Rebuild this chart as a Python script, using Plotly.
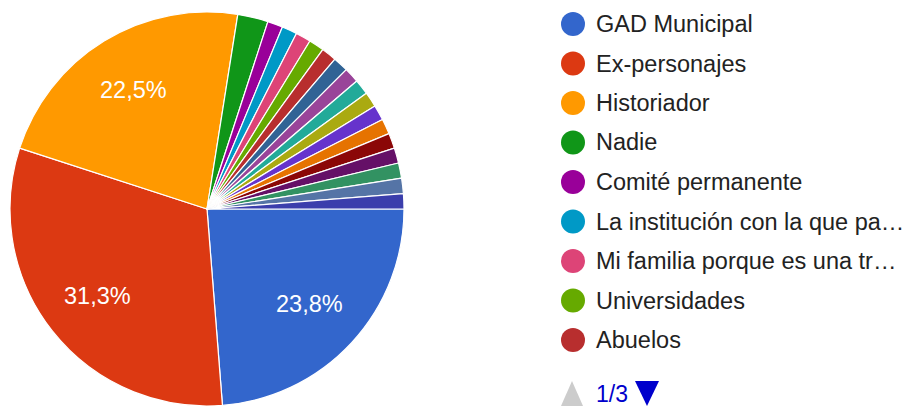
import math
import plotly.graph_objects as go

W, H = 913, 406

# respuestas (conteos); las 11 ultimas solo aparecen en las paginas 2 y 3 de la leyenda
labels = ["GAD Municipal", "Ex-personajes", "Historiador", "Nadie",
          "Comité permanente", "La institución con la que pa…",
          "Mi familia porque es una tr…", "Universidades", "Abuelos",
          "Respuesta 10", "Respuesta 11", "Respuesta 12", "Respuesta 13",
          "Respuesta 14", "Respuesta 15", "Respuesta 16", "Respuesta 17",
          "Respuesta 18", "Respuesta 19", "Respuesta 20"]
counts = [19, 25, 18, 2, 1, 1, 1, 1, 1, 1, 1, 1, 1, 1, 1, 1, 1, 1, 1, 1]
colors = ["#3366cc", "#dc3912", "#ff9900", "#109618", "#990099", "#0099c6",
          "#dd4477", "#66aa00", "#b82e2e", "#316395", "#994499", "#22aa99",
          "#aaaa11", "#6633cc", "#e67300", "#8b0707", "#651067", "#329262",
          "#5574a6", "#3b3eac"]
legend_page = "1/3"
legend_rows = 9

FONT = "Liberation Sans, Arial, sans-serif"
total = sum(counts)

# geometria del pastel (pixeles)
CX, CY, R = 207, 209, 197
START = 90  # grados, sentido horario desde las 12


def pct_label(v):
    # redondeo a decimas, mitad hacia arriba, con coma decimal
    tenths = (v * 2000 + total) // (2 * total)
    return f"{tenths // 10},{tenths % 10}%"


def px(x):
    return x / W


def py(y):
    return 1 - y / H


fig = go.Figure()
fig.add_trace(go.Pie(
    labels=labels,
    values=counts,
    textinfo="none",
    marker=dict(colors=colors, line=dict(color="white", width=1.2)),
    sort=False,
    direction="clockwise",
    rotation=START,
    showlegend=False,
    domain=dict(x=[px(CX - R), px(CX + R)], y=[0, py(CY - R)]),
))

shapes = []
annotations = []

# porcentajes dentro de las porciones grandes
acc = 0
for v in counts:
    mid = START + (acc + v / 2) / total * 360
    acc += v
    if v / total <= 0.05:
        continue
    a = math.radians(mid)
    tx = CX + 0.71 * R * math.sin(a)
    ty = CY - 0.71 * R * math.cos(a)
    annotations.append(dict(text=pct_label(v), xref="paper", yref="paper",
                            x=px(tx), y=py(ty), xanchor="center", yanchor="middle",
                            showarrow=False,
                            font=dict(size=23.5, color="white", family=FONT)))

row_y0, row_step = 24, 39.5
for i in range(legend_rows):
    cy = row_y0 + i * row_step
    shapes.append(dict(type="circle", xref="paper", yref="paper",
                       x0=px(561), x1=px(585), y0=py(cy - 12), y1=py(cy + 12),
                       fillcolor=colors[i], line=dict(width=0)))
    annotations.append(dict(text=labels[i], xref="paper", yref="paper",
                            x=px(594), y=py(cy), xanchor="left", yanchor="middle",
                            showarrow=False,
                            font=dict(size=23.5, color="#222222", family=FONT)))

# paginacion de la leyenda
shapes.append(dict(type="path", xref="paper", yref="paper",
                   path=f"M {px(561)} {py(406)} L {px(583)} {py(406)} L {px(572)} {py(381)} Z",
                   fillcolor="#cccccc", line=dict(width=0)))
shapes.append(dict(type="path", xref="paper", yref="paper",
                   path=f"M {px(635)} {py(381)} L {px(659)} {py(381)} L {px(647)} {py(406)} Z",
                   fillcolor="#0000cc", line=dict(width=0)))
annotations.append(dict(text=legend_page, xref="paper", yref="paper",
                        x=px(594), y=py(394), xanchor="left", yanchor="middle",
                        showarrow=False,
                        font=dict(size=23, color="#0000cc", family=FONT)))

fig.update_layout(
    width=W, height=H,
    margin=dict(l=0, r=0, t=0, b=0),
    paper_bgcolor="white",
    plot_bgcolor="white",
    shapes=shapes,
    annotations=annotations,
)

fig.write_html("out.html", config={"displayModeBar": False},
               post_script="document.body.style.margin='0px';")
